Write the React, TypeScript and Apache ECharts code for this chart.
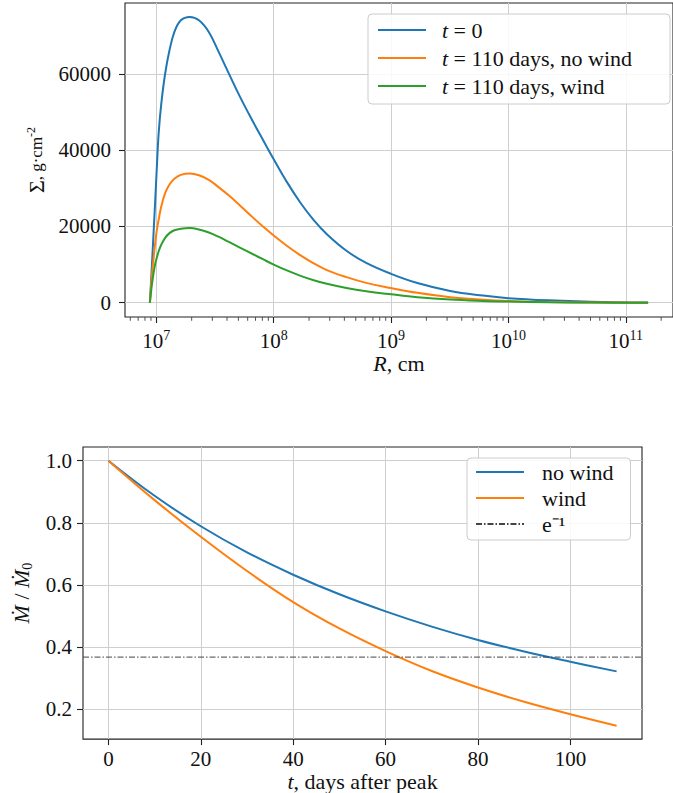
import React, { useEffect, useRef } from 'react';
import * as echarts from 'echarts';

// ---------- top panel: surface density vs radius ----------
const radiusCm = [
  8.81e6, 9.12e6, 9.441e6, 9.772e6, 1.0116e7, 1.0471e7, 1.1015e7, 1.1885e7, 1.2942e7, 1.4256e7,
  1.6181e7, 1.9275e7, 2.3067e7, 2.799e7, 3.3884e7, 4.1115e7, 5.1523e7, 6.6681e7, 8.091e7, 1.0e8,
  1.3092e8, 1.6943e8, 2.1928e8, 2.8379e8, 4.1687e8, 6.1376e8, 1.0e9, 1.6749e9, 3.1915e9, 6.0814e9,
  1.0e10, 2.1878e10, 5.0119e10, 1.5488e11,
];
const sigmaT0 = [
  0, 8500, 17500, 26500, 36000, 44500, 52100, 60000, 66140, 70960,
  74030, 74900, 74030, 70960, 65800, 60300, 54000, 47400, 42700, 37600,
  31400, 26130, 21650, 17950, 13610, 10420, 7560, 5150, 3080, 1870,
  1200, 620, 250, 30,
];
const sigmaNoWind = [
  0, 6500, 11200, 15600, 19200, 21800, 25200, 28700, 30960, 32500,
  33500, 33850, 33400, 32200, 30300, 28200, 25500, 22300, 20000, 17600,
  14800, 12400, 10300, 8550, 6700, 5200, 3850, 2600, 1450, 800,
  470, 180, 70, 10,
];
const sigmaWind = [
  0, 4200, 7500, 10100, 11900, 13500, 15200, 17000, 18240, 19000,
  19400, 19560, 19200, 18400, 17300, 16000, 14450, 12700, 11400, 10000,
  8400, 7050, 5900, 4950, 3850, 3000, 2200, 1450, 820, 460,
  290, 110, 40, 5,
];
const majorRTicks = [1e7, 1e8, 1e9, 1e10, 1e11];
const minorDecades = [1e6, 1e7, 1e8, 1e9, 1e10, 1e11];
const minorMultipliers = [2, 3, 4, 5, 6, 7, 8, 9];
const sigmaTicks = [0, 20000, 40000, 60000];
const topNames = ['t = 0', 't = 110 days, no wind', 't = 110 days, wind'];

// ---------- bottom panel: accretion rate vs time ----------
const days = [0, 10, 20, 30, 40, 50, 60, 70, 80, 90, 100, 110];
const mdotNoWind = [1.0, 0.887, 0.789, 0.705, 0.633, 0.57, 0.515, 0.466, 0.423, 0.386, 0.353, 0.322];
const mdotWind = [1.0, 0.873, 0.755, 0.645, 0.545, 0.46, 0.387, 0.323, 0.27, 0.224, 0.184, 0.147];
const eFold = Math.exp(-1);
const dayTicks = [0, 20, 40, 60, 80, 100];
const mdotTicks = [0.2, 0.4, 0.6, 0.8, 1.0];
const bottomNames = ['no wind', 'wind', 'e⁻¹'];

const FONT = 'Liberation Serif';
const TXT = '#111';
const GRIDC = '#cfcfcf';
const SPINE = '#222';

const C_BLUE = '#1f77b4';
const C_ORANGE = '#ff7f0e';
const C_GREEN = '#2ca02c';

// axis extents (matplotlib-like 5% margins)
const rMin = Math.pow(10, 6.733);
const rMax = Math.pow(10, 11.402);
const sMin = -3740;
const sMax = 78540;
const tMin = -5.5;
const tMax = 115.5;
const mMin = 0.104;
const mMax = 1.044;

const baseRich = {
  i: { fontFamily: FONT, fontStyle: 'italic', fontSize: 22, color: TXT },
  n: { fontFamily: FONT, fontSize: 22, color: TXT },
};

export default function App() {
  const ref = useRef<HTMLDivElement>(null);
  useEffect(() => {
    if (!ref.current) return;
    const chart = echarts.init(ref.current, undefined, { renderer: 'svg' });
    const minorR: number[] = [];
    minorDecades.forEach((d) => minorMultipliers.forEach((m) => {
      const v = d * m;
      if (v > rMin && v < rMax) minorR.push(v);
    }));

    const tickLabel = { fontFamily: FONT, fontSize: 21, color: TXT };
    const splitLine = { show: true, lineStyle: { color: GRIDC, width: 1 } };
    const axisLine = { show: false, onZero: false };
    const axisTick = (vals: number[]) => ({ show: true, customValues: vals, length: 6, lineStyle: { color: SPINE, width: 1.1 } });

    const lineSeries = (name: string, xs: number[], ys: number[], color: string, xi: number, sm: number) => ({
      type: 'line', name, xAxisIndex: xi, yAxisIndex: xi,
      data: xs.map((x, k) => [x, ys[k]]),
      symbol: 'none', smooth: sm,
      lineStyle: { color, width: 2 }, itemStyle: { color },
      silent: true,
    });

    const legendBase = {
      orient: 'vertical',
      itemWidth: 48, itemHeight: 14,
      backgroundColor: 'rgba(255,255,255,0.85)',
      borderColor: '#cccccc', borderWidth: 1, borderRadius: 4,
      selectedMode: false,
      itemStyle: { opacity: 0 },
    };
    const legRich = {
      i: { fontFamily: FONT, fontStyle: 'italic', fontSize: 22, color: TXT, lineHeight: 22 },
      n: { fontFamily: FONT, fontSize: 22, color: TXT, lineHeight: 22 },
    };

    chart.setOption({
      animation: false,
      textStyle: { fontFamily: FONT },
      grid: [
        { left: 125, top: 3, width: 557, height: 314, show: true, borderColor: SPINE, borderWidth: 1.1, backgroundColor: 'transparent' },
        { left: 83, top: 447, width: 559, height: 294, show: true, borderColor: SPINE, borderWidth: 1.1, backgroundColor: 'transparent' },
      ],
      xAxis: [
        {
          type: 'log', logBase: 10, gridIndex: 0, min: rMin, max: rMax,
          axisLine,
          axisTick: axisTick(majorRTicks),
          axisLabel: {
            customValues: majorRTicks, margin: 11,
            formatter: (v: number) => `{b|10}{s|${Math.round(Math.log10(v))}}`,
            rich: {
              b: { fontFamily: FONT, fontSize: 21, color: TXT, lineHeight: 26 },
              s: { fontFamily: FONT, fontSize: 14, color: TXT, lineHeight: 14, verticalAlign: 'top' },
            },
          },
          splitLine: { ...splitLine },
          minorTick: { show: false },
          name: '{i|R}{n|, cm}', nameLocation: 'middle', nameGap: 23,
          nameTextStyle: { rich: baseRich },
        },
        {
          type: 'value', gridIndex: 1, min: tMin, max: tMax,
          axisLine,
          axisTick: axisTick(dayTicks),
          axisLabel: { customValues: dayTicks, margin: 9, formatter: (v: number) => String(v), ...tickLabel },
          splitLine: { ...splitLine },
          name: '{i|t}{n|, days after peak}', nameLocation: 'middle', nameGap: 29,
          nameTextStyle: { rich: baseRich },
        },
      ],
      yAxis: [
        {
          type: 'value', gridIndex: 0, min: sMin, max: sMax,
          axisLine,
          axisTick: axisTick(sigmaTicks),
          axisLabel: { customValues: sigmaTicks, margin: 14, formatter: (v: number) => String(v), ...tickLabel },
          splitLine: { ...splitLine },
          name: '{n|Σ}{m|, g·cm}{sup|-2}', nameLocation: 'middle', nameRotate: 90, nameGap: 76,
          nameTextStyle: {
            rich: {
              n: { fontFamily: FONT, fontSize: 22, color: TXT, lineHeight: 24 },
              m: { fontFamily: FONT, fontSize: 17, color: TXT, lineHeight: 24 },
              sup: { fontFamily: FONT, fontSize: 12, color: TXT, lineHeight: 12, verticalAlign: 'top' },
            },
          },
        },
        {
          type: 'value', gridIndex: 1, min: mMin, max: mMax,
          axisLine,
          axisTick: axisTick(mdotTicks),
          axisLabel: { customValues: mdotTicks, margin: 11, formatter: (v: number) => v.toFixed(1), ...tickLabel },
          splitLine: { ...splitLine },
          name: '{i|Ṁ}{n| / }{i|Ṁ}{sub|0}', nameLocation: 'middle', nameRotate: 90, nameGap: 44,
          nameTextStyle: {
            rich: {
              i: { fontFamily: FONT, fontStyle: 'italic', fontSize: 22, color: TXT, lineHeight: 26 },
              n: { fontFamily: FONT, fontSize: 22, color: TXT, lineHeight: 26 },
              sub: { fontFamily: FONT, fontSize: 14, color: TXT, lineHeight: 16, verticalAlign: 'bottom' },
            },
          },
        },
      ],
      legend: [
        {
          ...legendBase,
          data: topNames,
          left: 368, top: 14,
          padding: [5, 38, 7, 9],
          itemGap: 6,
          formatter: (name: string) => `{i|t}{n|${name.slice(1)}}`,
          textStyle: { fontFamily: FONT, fontSize: 22, color: TXT, lineHeight: 22, padding: [0, 0, 0, 11], rich: legRich },
        },
        {
          ...legendBase,
          data: bottomNames,
          left: 467, top: 458,
          padding: [3, 17, 5, 8],
          itemGap: 4,
          textStyle: { fontFamily: FONT, fontSize: 22, color: TXT, lineHeight: 22, padding: [0, 0, 0, 13] },
        },
      ],
      series: [
        lineSeries(topNames[0], radiusCm, sigmaT0, C_BLUE, 0, 0.4),
        lineSeries(topNames[1], radiusCm, sigmaNoWind, C_ORANGE, 0, 0.4),
        lineSeries(topNames[2], radiusCm, sigmaWind, C_GREEN, 0, 0.4),
        {
          type: 'scatter', name: 'minorTicks', xAxisIndex: 0, yAxisIndex: 0,
          data: minorR.map((r) => [r, sMin]),
          symbol: 'rect', symbolSize: [1, 3.5], symbolOffset: [0, 2],
          itemStyle: { color: SPINE }, clip: false, silent: true, z: 5,
        },
        lineSeries(bottomNames[0], days, mdotNoWind, C_BLUE, 1, 0.4),
        lineSeries(bottomNames[1], days, mdotWind, C_ORANGE, 1, 0.4),
        {
          type: 'line', name: bottomNames[2], xAxisIndex: 1, yAxisIndex: 1,
          data: [[tMin, eFold], [tMax, eFold]],
          symbol: 'none', silent: true,
          lineStyle: { color: '#444', width: 1, type: [6, 2, 1.5, 2] },
          itemStyle: { color: '#444' },
        },
      ],
    });
    return () => chart.dispose();
  }, []);
  return <div ref={ref} style={{ position: 'fixed', left: 0, top: 0, width: 673, height: 793, background: '#fff' }} />;
}
